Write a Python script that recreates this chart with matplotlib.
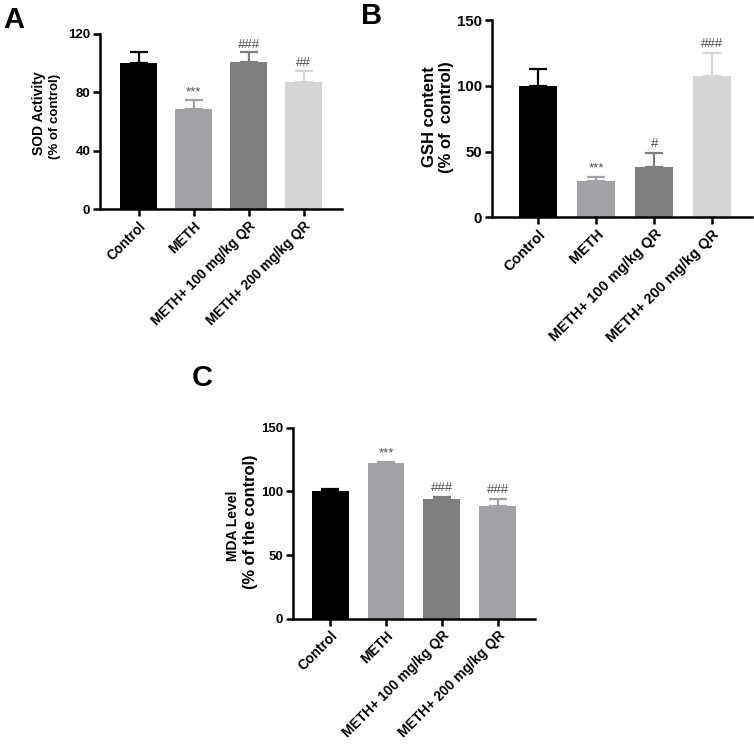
import matplotlib.pyplot as plt
import numpy as np

plt.rcParams['font.family'] = ['Liberation Sans', 'DejaVu Sans']

groups = ['Control', 'METH', 'METH+ 100 mg/kg QR', 'METH+ 200 mg/kg QR']

# panel A: SOD
sod_mean = [100, 68.6, 100.8, 87.0]
sod_err = [7.7, 6.2, 6.8, 7.7]
sod_sig = ['', '***', '###', '##']

# panel B: GSH
gsh_mean = [100, 27.6, 38.5, 107.2]
gsh_err = [13.0, 3.3, 10.4, 17.9]
gsh_sig = ['', '***', '#', '###']

# panel C: MDA
mda_mean = [100, 122.5, 94.0, 88.2]
mda_err = [2.2, 0.8, 1.8, 6.0]
mda_sig = ['', '***', '###', '###']

colors_ab = ['#000000', '#a2a2a6', '#7f7f7f', '#d5d5d5']
colors_c = ['#000000', '#a2a2a6', '#7f7f7f', '#a2a2a6']

W, H = 754, 746
fig = plt.figure(figsize=(W / 100, H / 100), dpi=100)


def px_axes(left, top, right, bottom):
    return fig.add_axes([left / W, 1 - bottom / H, (right - left) / W, (bottom - top) / H])


def px_label(x, y, s, size):
    # rotated y-label line placed in figure pixels
    fig.text(x / W, 1 - y / H, s, rotation=90, ha='center', va='center',
             fontsize=size, fontweight='bold')


def draw_panel(ax, means, errs, sig, colors, ylim, yticks, xlim, width, sig_gap,
               xsize, ysize):
    x = np.arange(len(means))
    ax.bar(x, means, width=width, color=colors, zorder=2)
    for xi, m, e, c, s in zip(x, means, errs, colors, sig):
        ax.errorbar(xi, m, yerr=[[0], [e]], fmt='none', ecolor=c,
                    elinewidth=1.6, capsize=6.5, capthick=1.6, zorder=1)
        if s:
            ax.text(xi, m + e + sig_gap, s, ha='center', va='bottom',
                    fontsize=9.5, color='#505050')
    ax.set_xlim(*xlim)
    ax.set_ylim(*ylim)
    ax.set_yticks(yticks)
    ax.set_xticks(x)
    ax.set_xticklabels(groups, rotation=45, ha='right', rotation_mode='anchor',
                       fontsize=xsize, fontweight='bold')
    for lab in ax.get_yticklabels():
        lab.set_fontweight('bold')
        lab.set_fontsize(ysize)
    for side in ['top', 'right']:
        ax.spines[side].set_visible(False)
    for side in ['left', 'bottom']:
        ax.spines[side].set_linewidth(1.8)
    ax.tick_params(axis='both', width=1.8, length=5, direction='out', pad=2)


axA = px_axes(100, 34, 342, 209.3)
draw_panel(axA, sod_mean, sod_err, sod_sig, colors_ab, (0, 120), [0, 40, 80, 120],
           (-0.7, 3.7), 0.67, 1.0, 9.8, 9.5)
px_label(39, 113, 'SOD Activity', 10)
px_label(55, 116, '(% of control)', 9.5)

axB = px_axes(491.7, 20, 751.7, 217.3)
draw_panel(axB, gsh_mean, gsh_err, gsh_sig, colors_ab, (0, 150), [0, 50, 100, 150],
           (-0.8, 3.68), 0.66, 2.0, 10.5, 10.8)
px_label(430, 117, 'GSH content', 12)
px_label(446, 117, '(% of  control)', 12)

axC = px_axes(292.7, 427.7, 535, 618.7)
draw_panel(axC, mda_mean, mda_err, mda_sig, colors_c, (0, 150), [0, 50, 100, 150],
           (-0.67, 3.67), 0.66, 2.0, 10, 9.5)
px_label(233, 526, 'MDA Level', 10)
px_label(250, 522, '(% of the control)', 11.8)

fig.text(14 / W, 1 - 20 / H, 'A', fontsize=21, fontweight='bold', ha='center', va='center')
fig.text(372 / W, 1 - 16 / H, 'B', fontsize=21, fontweight='bold', ha='center', va='center')
fig.text(202 / W, 1 - 378 / H, 'C', fontsize=21, fontweight='bold', ha='center', va='center')

fig.savefig('out.png', dpi=100, facecolor='white')
